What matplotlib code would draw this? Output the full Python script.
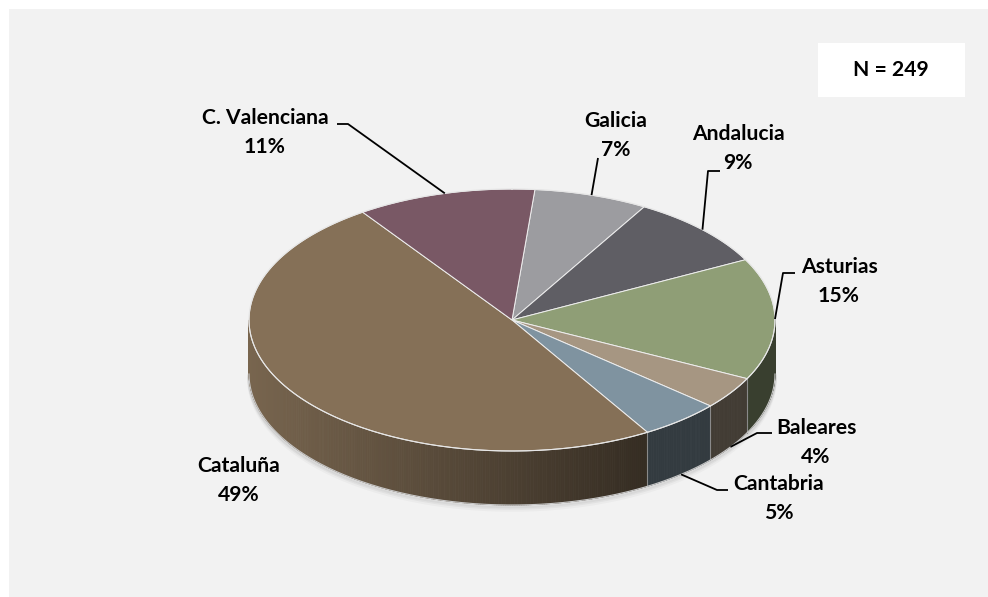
import numpy as np
import matplotlib
matplotlib.use('Agg')
import matplotlib.pyplot as plt
from matplotlib.patches import Polygon, Rectangle
from matplotlib.collections import PolyCollection

# Distribución por comunidad autónoma (N = 249)
regiones = ['Galicia', 'Andalucia', 'Asturias', 'Baleares', 'Cantabria', 'Cataluña', 'C. Valenciana']
porcentajes = [7, 9, 15, 4, 5, 49, 11]
colores = ['#9c9ca0', '#5f5e64', '#8f9e76', '#a69682', '#7f93a0', '#857057', '#795865']
total_n = 249

# geometria del pastel 3D (en pixeles de la figura)
cx, cy = 512, 320
rx, ry = 263, 131
prof = 54
inicio = 5.0  # grados, sentido horario desde arriba

# posicion de las etiquetas (centro del nombre) y codos de las lineas guia
pos_etiqueta = {
    'Galicia': (616, 121),
    'Andalucia': (738, 134),
    'Asturias': (839, 267),
    'Baleares': (816, 428),
    'Cantabria': (779, 484),
    'Cataluña': (239, 466),
    'C. Valenciana': (265, 118),
}
codos = {
    'Galicia': [(598, 158)],
    'Andalucia': [(708, 171), (720, 171)],
    'Asturias': [(783, 273), (795, 273)],
    'Baleares': [(757, 433), (772, 433)],
    'Cantabria': [(717, 490), (728, 490)],
    'C. Valenciana': [(348, 124), (337, 124)],
}

fuente = ['Lato', 'DejaVu Sans']
tam = 15.2


def borde(theta):
    t = np.radians(theta)
    return cx + rx * np.sin(t), cy - ry * np.cos(t)


def luz(x):
    # lado izquierdo mas claro, derecha en sombra
    u = (x - cx) / rx
    f = 0.9 - 0.5 * (u + 1) / 1.5
    return max(f, 0.4)


def oscurecer(color, f):
    r, g, b = matplotlib.colors.to_rgb(color)
    return (r * f, g * f, b * f)


fig = plt.figure(figsize=(9.88, 5.97), dpi=100)
fig.patch.set_facecolor('white')
ax = fig.add_axes([0, 0, 1, 1])
ax.set_xlim(0, 988)
ax.set_ylim(597, 0)
ax.axis('off')

ax.add_patch(Rectangle((9, 9), 990, 600, facecolor='#f2f2f2', edgecolor='none', zorder=0))

angulos = inicio + np.concatenate([[0], np.cumsum(porcentajes)]) * 3.6

# sombra suave bajo el pastel
for k, a in zip([5, 3, 1.5], [0.05, 0.08, 0.12]):
    th = np.linspace(90, 270, 200)
    xs, ys = borde(th)
    ax.plot(xs, ys + prof + k, color='#707070', alpha=a, lw=2.5, zorder=1)

# paredes laterales (solo la mitad delantera)
for i in range(len(porcentajes)):
    a0, a1 = max(angulos[i], 90), min(angulos[i + 1], 270)
    if a1 <= a0:
        continue
    th = np.linspace(a0, a1, int((a1 - a0) * 2) + 2)
    polys, cols = [], []
    for t0, t1 in zip(th[:-1], th[1:]):
        x0, y0 = borde(t0)
        x1, y1 = borde(t1)
        polys.append([(x0, y0), (x1, y1), (x1, y1 + prof), (x0, y0 + prof)])
        cols.append(oscurecer(colores[i], luz((x0 + x1) / 2)))
    ax.add_collection(PolyCollection(polys, facecolors=cols, edgecolors=cols, lw=0.6, zorder=2))

# separaciones entre porciones en la pared
for a in angulos:
    a = a % 360
    if 90 < a < 270:
        x, y = borde(a)
        ax.plot([x, x], [y, y + prof], color='#8a8a8a', lw=0.8, zorder=3)

th = np.linspace(90, 270, 300)
xs, ys = borde(th)
ax.plot(xs, ys + prof, color='#c8c8c8', lw=0.8, zorder=3)

# caras superiores
for i in range(len(porcentajes)):
    th = np.linspace(angulos[i], angulos[i + 1], 120)
    xs, ys = borde(th)
    pts = [(cx, cy)] + list(zip(xs, ys))
    ax.add_patch(Polygon(pts, closed=True, facecolor=colores[i], edgecolor='#eeeeee',
                         lw=0.7, joinstyle='round', zorder=4))

th = np.linspace(0, 360, 400)
xs, ys = borde(th)
ax.plot(xs, ys, color='#e6e6e6', lw=0.8, zorder=5)

# etiquetas con nombre y porcentaje
for i, reg in enumerate(regiones):
    x, y = pos_etiqueta[reg]
    ax.text(x, y, reg, ha='center', va='center', fontsize=tam, fontweight='bold',
            family=fuente, color='black', zorder=7)
    ax.text(x, y + 29, f'{porcentajes[i]}%', ha='center', va='center', fontsize=tam,
            fontweight='bold', family=fuente, color='black', zorder=7)
    if reg in codos:
        medio = (angulos[i] + angulos[i + 1]) / 2
        px, py = borde(medio)
        if np.cos(np.radians(medio)) < 0:
            py += prof
        xs = [px] + [p[0] for p in codos[reg]]
        ys = [py] + [p[1] for p in codos[reg]]
        ax.plot(xs, ys, color='black', lw=1.3, zorder=6, solid_capstyle='butt')

# recuadro con el tamaño de la muestra
ax.add_patch(Rectangle((818, 43), 147, 54, facecolor='white', edgecolor='none', zorder=6))
ax.text(891, 70, f'N = {total_n}', ha='center', va='center', fontsize=tam,
        fontweight='bold', family=fuente, color='black', zorder=7)

fig.savefig('out.png', dpi=100, facecolor=fig.get_facecolor())
